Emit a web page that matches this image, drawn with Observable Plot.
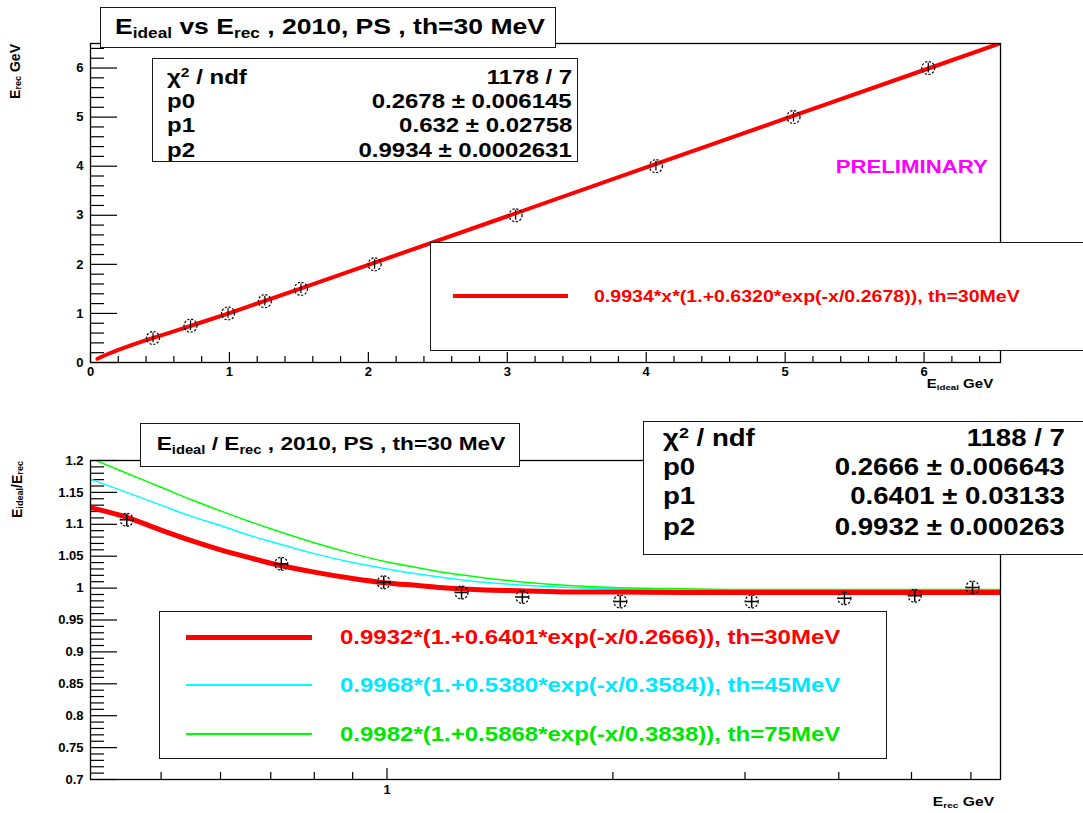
<!DOCTYPE html>
<html>
<head>
<meta charset="utf-8">
<script src="https://cdn.jsdelivr.net/npm/d3@7"></script>
<script src="https://cdn.jsdelivr.net/npm/@observablehq/plot@0.6"></script>
<style>
html,body{margin:0;padding:0;background:#fff;}
#root{position:relative;width:1083px;height:813px;overflow:hidden;background:#fff;
 font-family:"Liberation Sans",Arial,Helvetica,sans-serif;font-weight:bold;color:#000;}
.panel{position:absolute;left:0;}
.box{position:absolute;background:#fff;border:1.5px solid #1a1a1a;box-sizing:border-box;}
.t{position:absolute;white-space:nowrap;}
.t span.s{display:inline-block;}
sub{font-size:65%;vertical-align:-0.3em;line-height:0;}
sup{font-size:65%;vertical-align:0.55em;line-height:0;}
.sw{position:absolute;}
.vt{position:absolute;writing-mode:vertical-rl;transform:rotate(180deg);white-space:nowrap;}
</style>
</head>
<body>
<div id="root"></div>
<script>
// ---------- data ----------
// top panel: E_rec vs E_ideal
const topPtX = [0.45, 0.72, 0.99, 1.255, 1.515, 2.045, 3.06, 4.07, 5.06, 6.03];
const topPtY = [0.5, 0.75, 1.0, 1.25, 1.5, 2.0, 3.0, 4.0, 5.0, 6.0];
const topPtErr = [0.1, 0.1, 0.1, 0.1, 0.1, 0.1, 0.1, 0.1, 0.1, 0.1];
const topFitX = [0.05, 0.1, 0.2, 0.3, 0.4, 0.6, 0.8, 1.0, 1.5, 2.0, 3.0, 4.0, 5.0, 6.0, 6.55];
const topFitY = [0.076, 0.143, 0.258, 0.36, 0.454, 0.636, 0.82, 1.008, 1.494, 1.988, 2.98, 3.974, 4.967, 5.96, 6.507];
const topXMajor = [0, 1, 2, 3, 4, 5, 6];
const topXMinor = [0.2,0.4,0.6,0.8,1.2,1.4,1.6,1.8,2.2,2.4,2.6,2.8,3.2,3.4,3.6,3.8,4.2,4.4,4.6,4.8,5.2,5.4,5.6,5.8,6.2,6.4];
const topXLabels = ["0","1","2","3","4","5","6"];
const topYMajor = [0, 1, 2, 3, 4, 5, 6];
const topYMinor = [0.2,0.4,0.6,0.8,1.2,1.4,1.6,1.8,2.2,2.4,2.6,2.8,3.2,3.4,3.6,3.8,4.2,4.4,4.6,4.8,5.2,5.4,5.6,5.8,6.2,6.4];
const topYLabels = ["0","1","2","3","4","5","6"];
const topStatLabels = ["χ<sup>2</sup> / ndf", "p0", "p1", "p2"];
const topStatValues = ["1178 / 7", "0.2678 ± 0.006145", "0.632 ± 0.02758", "0.9934 ± 0.0002631"];
const topLegend = "0.9934*x*(1.+0.6320*exp(-x/0.2678)), th=30MeV";

// bottom panel: E_ideal / E_rec vs E_rec (log x)
const botPtX = [0.45, 0.723, 0.99, 1.257, 1.515, 2.046, 3.062, 4.07, 5.05, 6.03];
const botPtY = [1.107, 1.038, 1.009, 0.993, 0.986, 0.979, 0.979, 0.984, 0.988, 1.001];
const botFitX = [0.4, 0.45, 0.5, 0.55, 0.6, 0.65, 0.7, 0.8, 0.9, 1.0, 1.1, 1.2, 1.35, 1.5, 1.75, 2.0, 2.5, 3.0, 4.0, 5.0, 6.57];
const red30  = [1.127, 1.111, 1.091, 1.074, 1.060, 1.049, 1.039, 1.025, 1.015, 1.008, 1.004, 1.000, 0.997, 0.996, 0.994, 0.994, 0.993, 0.993, 0.993, 0.993, 0.993];
const cyan45 = [1.172, 1.150, 1.130, 1.112, 1.098, 1.084, 1.073, 1.054, 1.040, 1.030, 1.022, 1.016, 1.009, 1.005, 1.001, 0.999, 0.997, 0.997, 0.997, 0.997, 0.997];
const green75= [1.205, 1.180, 1.158, 1.138, 1.121, 1.106, 1.093, 1.071, 1.054, 1.041, 1.032, 1.024, 1.016, 1.010, 1.004, 1.001, 0.999, 0.998, 0.998, 0.998, 0.998];
const botXMajor = [1];
const botXMinor = [0.5, 0.6, 0.7, 0.8, 0.9, 2, 3, 4, 5, 6];
const botXLabels = ["1"];
const botYMajor = [0.7, 0.75, 0.8, 0.85, 0.9, 0.95, 1.0, 1.05, 1.1, 1.15, 1.2];
const botYMinor = [0.71,0.72,0.73,0.74,0.76,0.77,0.78,0.79,0.81,0.82,0.83,0.84,0.86,0.87,0.88,0.89,0.91,0.92,0.93,0.94,0.96,0.97,0.98,0.99,1.01,1.02,1.03,1.04,1.06,1.07,1.08,1.09,1.11,1.12,1.13,1.14,1.16,1.17,1.18,1.19];
const botYLabels = ["0.7","0.75","0.8","0.85","0.9","0.95","1","1.05","1.1","1.15","1.2"];
const botStatLabels = ["χ<sup>2</sup> / ndf", "p0", "p1", "p2"];
const botStatValues = ["1188 / 7", "0.2666 ± 0.006643", "0.6401 ± 0.03133", "0.9932 ± 0.000263"];
const botLegend = [
  "0.9932*(1.+0.6401*exp(-x/0.2666)), th=30MeV",
  "0.9968*(1.+0.5380*exp(-x/0.3584)), th=45MeV",
  "0.9982*(1.+0.5868*exp(-x/0.3838)), th=75MeV"
];
const seriesColors = ["#ff0000", "#00ffff", "#00ff00"];
const legendTextColors = ["#ff0000", "#00e8ff", "#00e600"];

// ---------- build ----------
const root = document.getElementById("root");
const S = 1.2; // horizontal stretch of the reference text

const svgStyle = {fontFamily: '"Liberation Sans", Arial, Helvetica, sans-serif', fontSize: "13px",
  fontWeight: "bold", color: "#000", background: "transparent", overflow: "visible"};

const topPts = topPtX.map((x, i) => ({x, y: topPtY[i], e: topPtErr[i]}));
const topFit = topFitX.map((x, i) => ({x, y: topFitY[i]}));
const topXFmt = new Map(topXMajor.map((v, i) => [v, topXLabels[i]]));
const topYFmt = new Map(topYMajor.map((v, i) => [v, topYLabels[i]]));

const topPlot = Plot.plot({
  width: 1083, height: 400,
  marginLeft: 90, marginRight: 83, marginTop: 43, marginBottom: 38,
  x: {domain: [0, 6.55]},
  y: {domain: [0, 6.5]},
  style: svgStyle,
  marks: [
    Plot.axisX(topXMajor, {tickSize: -10, fill: "none", label: null, strokeWidth: 1.2}),
    Plot.axisX(topXMinor, {tickSize: -6, fill: "none", label: null, strokeWidth: 1.2}),
    Plot.axisX(topXMajor, {tickSize: 0, tickPadding: 4, label: null, tickFormat: d => topXFmt.get(d)}),
    Plot.axisY(topYMajor, {tickSize: -27, fill: "none", label: null, strokeWidth: 1.2}),
    Plot.axisY(topYMinor, {tickSize: -14, fill: "none", label: null, strokeWidth: 1.2}),
    Plot.axisY(topYMajor, {tickSize: 0, tickPadding: 7, label: null, tickFormat: d => topYFmt.get(d)}),
    Plot.line(topFit, {x: "x", y: "y", stroke: seriesColors[0], strokeWidth: 4, clip: true}),
    Plot.ruleX(topPts, {x: "x", y1: d => d.y - d.e, y2: d => d.y + d.e, stroke: "#000", strokeWidth: 1.2}),
    Plot.dot(topPts, {x: "x", y: "y", r: 6.5, stroke: "#000", strokeWidth: 1.2, strokeDasharray: "2.2,1.6"}),
    Plot.frame({stroke: "#000", strokeWidth: 1.3})
  ]
});

const botPts = botPtX.map((x, i) => ({x, y: botPtY[i]}));
const botFits = [red30, cyan45, green75].map((arr, k) => botFitX.map((x, i) => ({x, y: arr[i], k})));
const botXFmt = new Map(botXMajor.map((v, i) => [v, botXLabels[i]]));
const botYFmt = new Map(botYMajor.map((v, i) => [v, botYLabels[i]]));

const botPlot = Plot.plot({
  width: 1083, height: 413,
  marginLeft: 90, marginRight: 83, marginTop: 60, marginBottom: 34,
  x: {type: "log", domain: [0.4026, 6.57]},
  y: {domain: [0.7, 1.2]},
  style: svgStyle,
  marks: [
    Plot.axisX(botXMajor, {tickSize: -11, fill: "none", label: null, strokeWidth: 1.2}),
    Plot.axisX(botXMinor, {tickSize: -7, fill: "none", label: null, strokeWidth: 1.2}),
    Plot.axisX(botXMajor, {tickSize: 0, tickPadding: 5, label: null, tickFormat: d => botXFmt.get(d)}),
    Plot.axisY(botYMajor, {tickSize: -27, fill: "none", label: null, strokeWidth: 1.2}),
    Plot.axisY(botYMinor, {tickSize: -14, fill: "none", label: null, strokeWidth: 1.2}),
    Plot.axisY(botYMajor, {tickSize: 0, tickPadding: 7, label: null, tickFormat: d => botYFmt.get(d)}),
    Plot.line(botFits[1], {x: "x", y: "y", stroke: seriesColors[1], strokeWidth: 1.5, curve: "monotone-x", clip: true}),
    Plot.line(botFits[2], {x: "x", y: "y", stroke: seriesColors[2], strokeWidth: 1.5, curve: "monotone-x", clip: true}),
    Plot.line(botFits[0], {x: "x", y: "y", stroke: seriesColors[0], strokeWidth: 5, curve: "monotone-x", clip: true}),
    Plot.dot(botPts, {x: "x", y: "y", r: 6.5, stroke: "#000", strokeWidth: 1.2, strokeDasharray: "2.2,1.6"}),
    Plot.dot(botPts, {x: "x", y: "y", r: 4, symbol: "plus", stroke: "#000", strokeWidth: 1.5}),
    Plot.frame({stroke: "#000", strokeWidth: 1.3})
  ]
});

function panel(node, top) {
  const d = document.createElement("div");
  d.className = "panel"; d.style.top = top + "px";
  d.appendChild(node); root.appendChild(d);
}
panel(topPlot, 0);
panel(botPlot, 400);

function box(left, top, width, height) {
  const d = document.createElement("div");
  d.className = "box";
  Object.assign(d.style, {left: left + "px", top: top + "px", width: width + "px", height: height + "px"});
  root.appendChild(d);
}
function txt(html, x, y, size, {color = "#000", align = "left", stretch = S} = {}) {
  const d = document.createElement("div");
  d.className = "t";
  d.style.fontSize = size + "px";
  d.style.lineHeight = size + "px";
  d.style.color = color;
  d.style.top = (y - size / 2) + "px";
  if (align === "left") d.style.left = x + "px";
  else if (align === "right") d.style.right = (1083 - x) + "px";
  else { d.style.left = x + "px"; d.style.transform = "translateX(-50%)"; }
  d.innerHTML = `<span class="s" style="transform:scaleX(${stretch});transform-origin:${align} center">${html}</span>`;
  root.appendChild(d);
}
function swatch(x1, x2, y, w, color) {
  const d = document.createElement("div");
  d.className = "sw";
  Object.assign(d.style, {left: x1 + "px", top: (y - w / 2) + "px", width: (x2 - x1) + "px", height: w + "px", background: color});
  root.appendChild(d);
}
function vtitle(html, xc, yTop, size) {
  const d = document.createElement("div");
  d.className = "vt";
  Object.assign(d.style, {left: (xc - size / 2) + "px", top: yTop + "px", fontSize: size + "px", lineHeight: size + "px"});
  d.innerHTML = html;
  root.appendChild(d);
}

// ---- top panel overlays ----
box(100, 7, 456, 41);
txt("E<sub>ideal</sub> vs E<sub>rec</sub> , 2010, PS , th=30 MeV", 330, 27, 22.1, {align: "center"});
box(152, 58, 426, 104);
[19, 43, 67, 92].forEach((dy, i) => {
  txt(topStatLabels[i], 167, 58 + dy, 20, {align: "left"});
  txt(topStatValues[i], 572, 58 + dy, 20, {align: "right"});
});
txt("PRELIMINARY", 988, 167, 18.5, {color: "#ff00ff", align: "right"});
box(430, 242, 700, 109);
swatch(453, 568, 296, 4, seriesColors[0]);
txt(topLegend, 594, 296, 16.3, {color: legendTextColors[0], align: "left"});
vtitle("E<sub>rec</sub> GeV", 15, 44, 14);
txt("E<sub>ideal</sub> GeV", 993, 384, 12, {align: "right", stretch: 1.25});

// ---- bottom panel overlays ----
box(140, 423, 380, 44);
txt("E<sub>ideal</sub> / E<sub>rec</sub> , 2010, PS , th=30 MeV", 331, 444, 18.9, {align: "center"});
box(643, 421, 460, 134);
[17, 46, 75, 106].forEach((dy, i) => {
  txt(botStatLabels[i], 663, 421 + dy, 23, {align: "left"});
  txt(botStatValues[i], 1065, 421 + dy, 23, {align: "right"});
});
box(159, 611, 728, 148);
[637, 685, 734].forEach((y, i) => {
  swatch(186, 312, y, i === 0 ? 5 : 2, seriesColors[i]);
  txt(botLegend[i], 340, y, 20, {color: legendTextColors[i], align: "left"});
});
vtitle("E<sub>ideal</sub>/E<sub>rec</sub>", 17, 461, 14);
txt("E<sub>rec</sub> GeV", 994, 802, 12, {align: "right", stretch: 1.3});
</script>
</body>
</html>
